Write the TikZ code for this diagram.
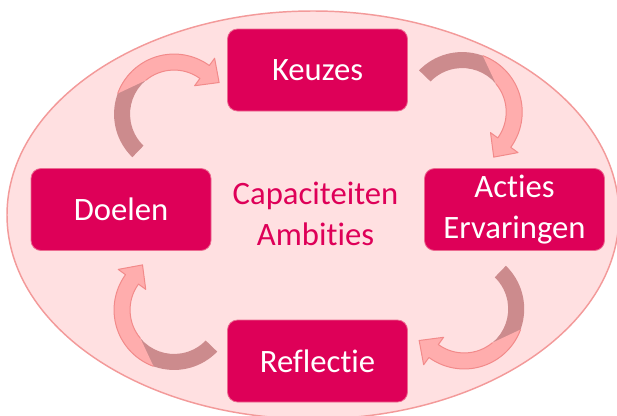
\documentclass[tikz,border=0pt]{standalone}
\usepackage{fontspec}
\setmainfont{Carlito}[Ligatures=NoCommon]
\usepackage{tikz}
\usetikzlibrary{calc}

\definecolor{boxred}{HTML}{DE0058}
\definecolor{boxrim}{HTML}{EC6A90}
\definecolor{ovalfill}{HTML}{FFE0E1}
\definecolor{ovalline}{HTML}{F39A9A}
\definecolor{arrowlight}{HTML}{FFADAD}
\definecolor{arrowline}{HTML}{F28A8A}
\definecolor{arrowdark}{HTML}{CC8B8D}

\tikzset{
  stage/.style={rectangle, rounded corners=7.5pt, fill=boxred, draw=boxrim, line width=0.6pt,
    minimum width=135pt, minimum height=61.5pt, text=white, align=center,
    font=\fontsize{24.5pt}{30.5pt}\selectfont},
  core/.style={text=boxred, align=center, font=\fontsize{24.5pt}{30.5pt}\selectfont},
  turn/.pic={
    % dark tail of the bent arrow
    \fill[arrowdark] (226:60) arc[start angle=226, end angle=130, radius=60] -- (130:44)
      arc[start angle=130, end angle=226, radius=44] -- cycle;
    % light part with the head
    \fill[arrowlight] (160:60) arc[start angle=160, end angle=54, radius=60] -- (54:69) -- (35:55)
      -- (54:35) -- (54:44) arc[start angle=54, end angle=130, radius=44] -- cycle;
    \draw[arrowline, line width=0.75pt, line join=round] (160:60) arc[start angle=160, end angle=54, radius=60]
      -- (54:69) -- (35:55) -- (54:35) -- (54:44) arc[start angle=54, end angle=130, radius=44];
  }
}

\begin{document}
\begin{tikzpicture}[x=0.75pt,y=0.75pt,yscale=-1,xscale=1]
\useasboundingbox (0,0) rectangle (617,415);

%Shape: Ellipse
\draw[ovalline, fill=ovalfill, line width=1.1pt] (313,215) ellipse [x radius=306, y radius=204];

%Stages
\node[stage] (keuzes) at (317.5,70) {Keuzes};
\node[stage] (doelen) at (121,209.5) {Doelen};
\node[stage] (acties) at (514.5,209.5) {Acties\\Ervaringen};
\node[stage] (reflectie) at (317.5,361) {Reflectie};

% Text Node
\node[core] (kern) at (315.5,214) {Capaciteiten\\Ambities};

%Bent arrows
\pic at ($(doelen.north)!0.5!(keuzes.west)+(0,-5)$) {turn};
\pic[rotate=-90] at ($(keuzes.east)!0.5!(acties.north)+(1,-7)$) {turn};
\pic[rotate=-180] at ($(acties.south)!0.5!(reflectie.east)+(3,3)$) {turn};
\pic[rotate=-270] at ($(reflectie.west)!0.5!(doelen.south)+(0,4)$) {turn};

\end{tikzpicture}
\end{document}
